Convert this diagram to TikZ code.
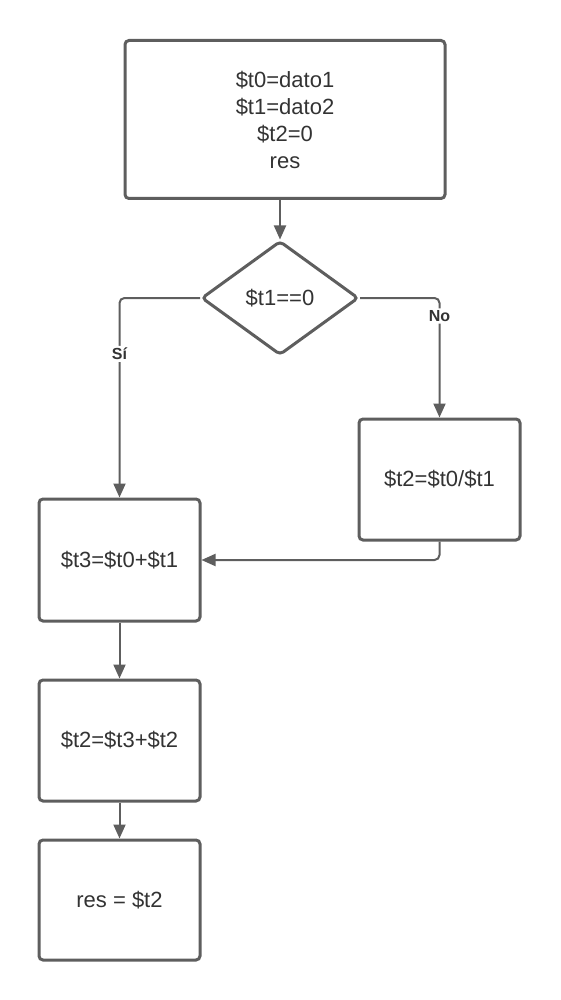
\documentclass[tikz,border=0pt]{standalone}
\usepackage{fontspec}
\setmainfont{Liberation Sans}
\usetikzlibrary{shapes.geometric,arrows.meta}
\definecolor{ln}{HTML}{5E5E5E}
\definecolor{tx}{HTML}{333333}
\begin{document}
\begin{tikzpicture}[x=1pt,y=-1pt,
 box/.style={draw=ln,line width=3pt,rounded corners=4pt,fill=white,text=tx,font=\fontsize{22}{27}\selectfont,align=center,inner sep=0pt},
 dec/.style={diamond,draw=ln,line width=3pt,rounded corners=4pt,fill=white,text=tx,font=\fontsize{22}{27}\selectfont,inner sep=0pt,minimum width=157pt,minimum height=114pt},
 conn/.style={draw=ln,line width=2pt,rounded corners=5pt,-{Triangle[length=14pt,width=12pt]}},
 lbl/.style={fill=white,text=tx,font=\bfseries\fontsize{16}{19}\selectfont,inner sep=2pt}]
\useasboundingbox (0,0) rectangle (560,1000);
\node[box,minimum width=320pt,minimum height=158pt] (init) at (285,119.5) {\$t0=dato1\\\$t1=dato2\\\$t2=0\\res};
\node[dec] (cond) at (280,298) {\$t1==0};
\node[box,minimum width=161pt,minimum height=121pt] (div) at (439.5,479.5) {\$t2=\$t0/\$t1};
\node[box,minimum width=161pt,minimum height=122pt] (sum) at (119.5,560) {\$t3=\$t0+\$t1};
\node[box,minimum width=161pt,minimum height=121pt] (acc) at (119.5,740.5) {\$t2=\$t3+\$t2};
\node[box,minimum width=161pt,minimum height=120pt] (res) at (119.5,900) {res = \$t2};
\draw[conn] (cond.north |- init.south) -- (cond.north);
\draw[conn] (cond.west) -| node[lbl,pos=0.64] {Sí} (sum.north);
\draw[conn] (cond.east) -| node[lbl,pos=0.575] {No} (div.north);
\draw[conn] (div.south) |- (sum.east);
\draw[conn] (sum.south) -- (acc.north);
\draw[conn] (acc.south) -- (res.north);
\end{tikzpicture}
\end{document}
